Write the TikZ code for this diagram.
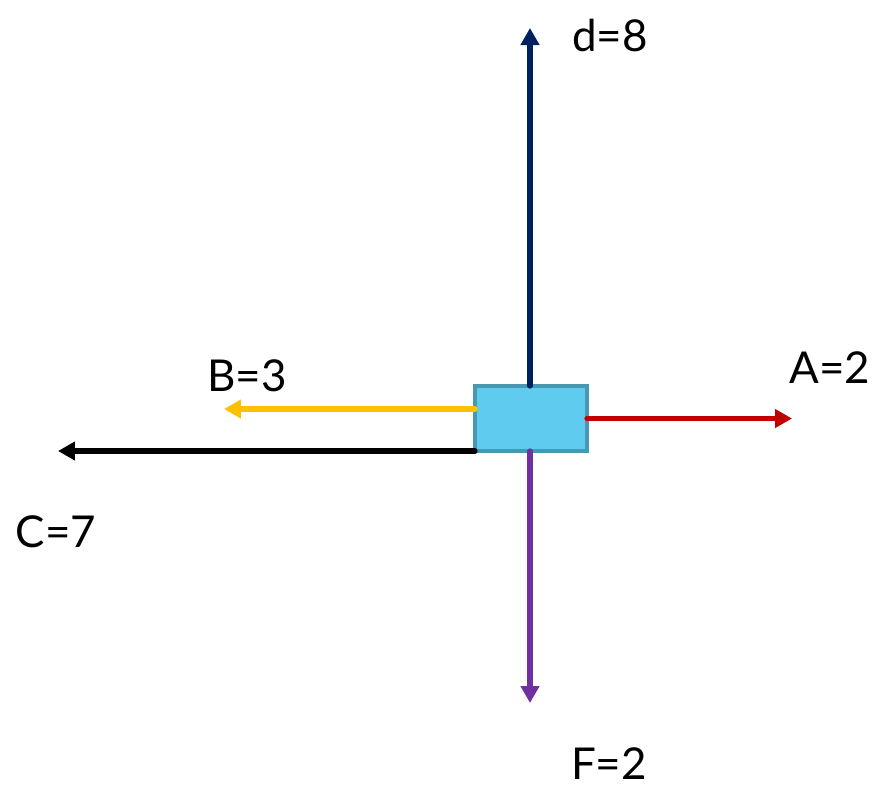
\documentclass[tikz,border=0pt]{standalone}
\usepackage{fontspec}
\setmainfont{Lato}
\usepackage{tikz}
\usetikzlibrary{arrows.meta,positioning,calc}
\usepackage{xcolor}

\definecolor{boxfill}{HTML}{5FCBEF}
\definecolor{boxline}{HTML}{4A97B2}
\definecolor{dnavy}{HTML}{002060}
\definecolor{ared}{HTML}{C00000}
\definecolor{byellow}{HTML}{FFC000}
\definecolor{fpurple}{HTML}{7030A0}

\begin{document}
\begin{tikzpicture}[x=0.02cm, y=-0.02cm,
    body/.style={rectangle, draw=boxline, fill=boxfill, line width=2.5pt,
                 minimum width=2.24cm, minimum height=1.3cm, inner sep=0pt, outer sep=0pt},
    arrow/.style={-{Triangle[length=0.34cm, width=0.36cm]}, line width=3pt, line cap=round},
    lbl/.style={font=\fontsize{25}{30}\selectfont, inner sep=0pt}
  ]
  \useasboundingbox (0,0) rectangle (882,789);

  \node[body] (block) at (531,418.5) {};

  % end points of the forces
  \coordinate (dtip) at (530,28);
  \coordinate (atip) at (792,419);
  \coordinate (btip) at (224,409);
  \coordinate (ctip) at (58,451);
  \coordinate (ftip) at (530,703);

  \coordinate (bstart) at ($(block.west)+(0,-9.5)$);

  \draw[arrow, dnavy] (block.north -| dtip) -- (dtip);
  \draw[arrow, ared] (block.east) -- (block.east -| atip);
  \draw[arrow, byellow] (bstart) -- (bstart -| btip);
  \draw[arrow, black] (block.south west) -- (block.south west -| ctip);
  \draw[arrow, fpurple] (block.south -| ftip) -- (ftip);

  \node[lbl] (dlabel) at (610,35) {d=8};
  \node[lbl] (alabel) at (830,368) {A=2};
  \node[lbl] (blabel) at (247,376) {B=3};
  \node[lbl] (clabel) at (56,532) {C=7};
  \node[lbl] (flabel) at (609,764) {F=2};

\end{tikzpicture}
\end{document}
